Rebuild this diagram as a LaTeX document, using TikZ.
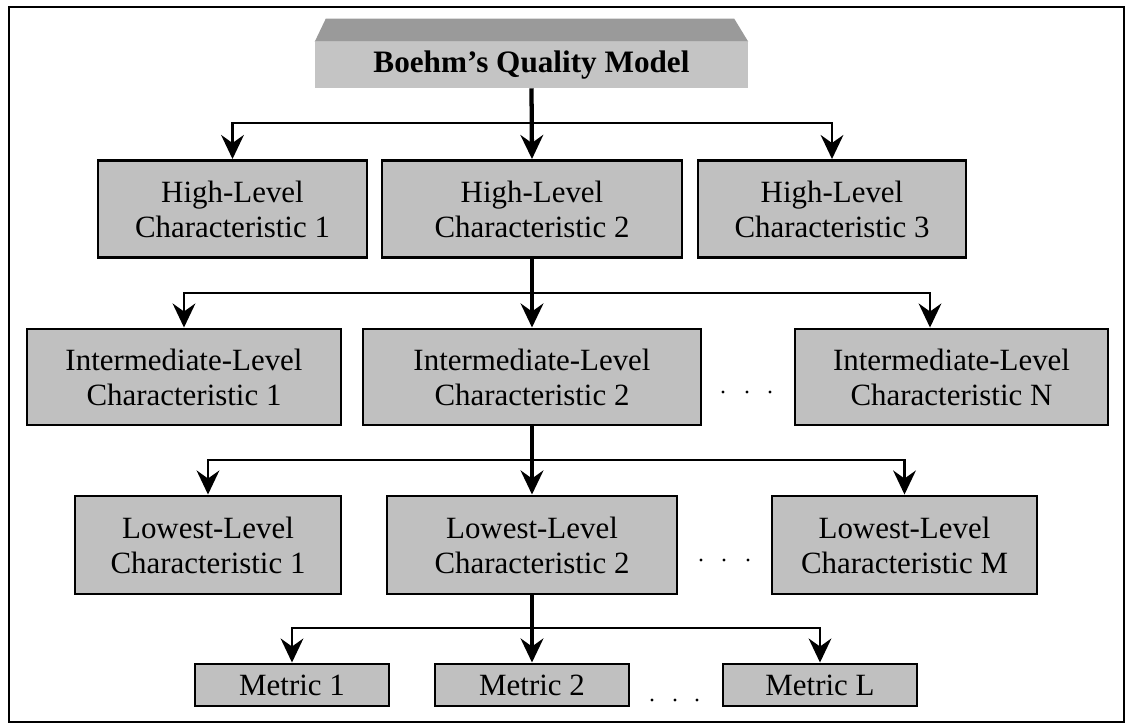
\documentclass[tikz,border=0pt]{standalone}
\usepackage{fontspec}
\setmainfont{Liberation Serif}
\usetikzlibrary{arrows.meta,calc}
\definecolor{boxgray}{HTML}{C0C0C0}
\definecolor{facegray}{HTML}{C4C4C4}
\definecolor{bevelgray}{HTML}{9A9A9A}

\begin{document}
\begin{tikzpicture}[x=0.75pt,y=-0.75pt,
  lvl/.style 2 args={draw=black, line width=2.2pt, fill=boxgray, align=center,
    inner sep=0pt, minimum width=#1*0.75pt, minimum height=#2*0.75pt,
    font=\fontsize{23.2pt}{26.3pt}\selectfont},
  titlebox/.style={fill=facegray, align=center, inner sep=0pt,
    minimum width=433*0.75pt, minimum height=46*0.75pt,
    font=\fontsize{23.4pt}{26pt}\selectfont\bfseries},
  link/.style={line width=2.2pt, -{Stealth[length=18pt,width=17pt,inset=6pt]}},
  stem/.style={link, line width=3.2pt},
  dot/.style={fill=black}
]
\useasboundingbox (0,0) rectangle (1128,727);
\draw[line width=2.2pt] (9,7) rectangle (1124,722);

% title block with bevelled top
\node[titlebox] (top) at (531.5,65) {Boehm’s Quality Model};
\fill[bevelgray] (top.north west) -- (top.north east)
  -- ($(top.north east)+(-14,-23)$) -- ($(top.north west)+(11,-23)$) -- cycle;

% high level
\node[lvl={269}{97}] (h1) at (232.5,209) {High-Level\\Characteristic 1};
\node[lvl={300}{97}] (h2) at (532,209) {High-Level\\Characteristic 2};
\node[lvl={268}{97}] (h3) at (832,209) {High-Level\\Characteristic 3};

% intermediate level
\node[lvl={314}{96}] (i1) at (184,377) {Intermediate-Level\\Characteristic 1};
\node[lvl={338}{96}] (i2) at (532,377) {Intermediate-Level\\Characteristic 2};
\node[lvl={313}{96}] (iN) at (951.5,377) {Intermediate-Level\\Characteristic N};

% lowest level
\node[lvl={266}{98}] (l1) at (208,545) {Lowest-Level\\Characteristic 1};
\node[lvl={290}{98}] (l2) at (532,545) {Lowest-Level\\Characteristic 2};
\node[lvl={265}{98}] (lM) at (904.5,545) {Lowest-Level\\Characteristic M};

% metrics
\node[lvl={194}{42}] (m1) at (292,685) {Metric 1};
\node[lvl={194}{42}] (m2) at (532,685) {Metric 2};
\node[lvl={194}{42}] (mL) at (820,685) {Metric L};

% ellipses between boxes
\foreach \x in {723,747,770} \fill[dot] (\x,392) circle (1.7);
\foreach \x in {701,724,748} \fill[dot] (\x,560) circle (1.7);
\foreach \x in {652,675,697} \fill[dot] (\x,700) circle (1.7);

% branching buses
\coordinate (b1) at (0,123);
\coordinate (b2) at (0,293);
\coordinate (b3) at (0,460);
\coordinate (b4) at (0,628);
\coordinate (nIn) at (930,0);

\draw[stem] (top.south) -- (h2.north);
\draw[link] (top.south |- b1) -| (h1.north);
\draw[link] (top.south |- b1) -| (h3.north);

\draw[stem] (h2.south) -- (i2.north);
\draw[link] (h2.south |- b2) -| (i1.north);
\draw[link] (h2.south |- b2) -| (nIn |- iN.north);

\draw[stem] (i2.south) -- (l2.north);
\draw[link] (i2.south |- b3) -| (l1.north);
\draw[link] (i2.south |- b3) -| (lM.north);

\draw[stem] (l2.south) -- (m2.north);
\draw[link] (l2.south |- b4) -| (m1.north);
\draw[link] (l2.south |- b4) -| (mL.north);
\end{tikzpicture}
\end{document}
